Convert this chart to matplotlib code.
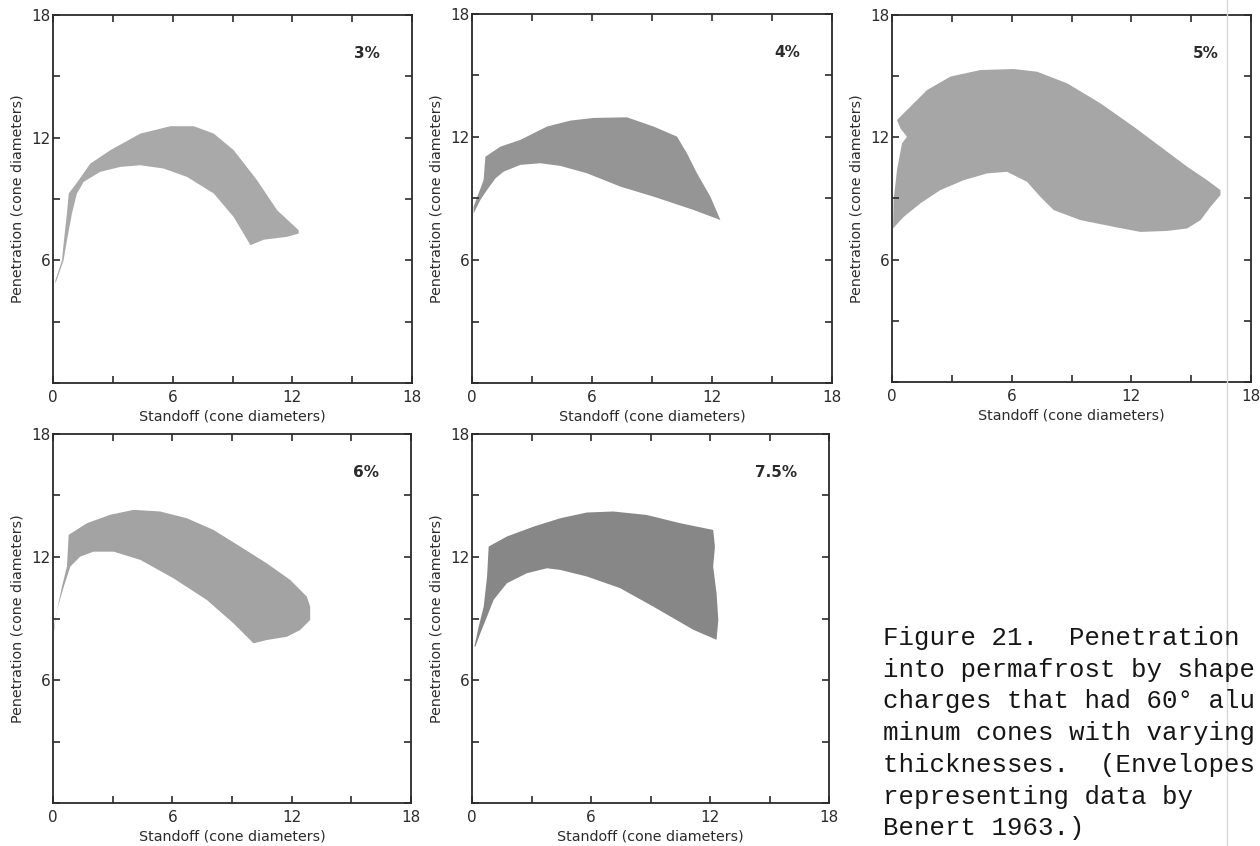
import numpy as np
import matplotlib
matplotlib.use("Agg")
import matplotlib.pyplot as plt

# envelope outlines, (standoff, penetration) in cone diameters
# upper edge goes left -> right, lower edge comes back right -> left

env_3_x = [0.12, 0.45, 0.53, 0.70, 0.79, 1.20, 1.87, 2.88, 4.38, 5.89, 7.06, 8.06, 9.06,
           10.23, 11.24, 12.32, 12.32, 11.74, 10.57, 9.90,
           9.06, 8.06, 6.72, 5.55, 4.38, 3.38, 2.37, 1.54, 1.20, 0.95, 0.70, 0.53, 0.12]
env_3_y = [5.02, 6.00, 6.80, 8.30, 9.27, 9.80, 10.73, 11.39, 12.20, 12.56, 12.56, 12.20, 11.39,
           9.92, 8.45, 7.47, 7.31, 7.15, 7.01, 6.74,
           8.12, 9.27, 10.08, 10.49, 10.65, 10.57, 10.33, 9.84, 9.27, 8.29, 6.98, 6.00, 4.86]

env_4_x = [0.08, 0.33, 0.58, 0.67, 1.42, 2.42, 3.75, 4.92, 6.08, 7.75, 9.08, 10.25, 10.75,
           11.25, 11.92, 12.42,
           11.08, 9.08, 7.42, 5.75, 4.42, 3.42, 2.42, 1.58, 1.17, 0.75, 0.42, 0.08]
env_4_y = [8.60, 9.25, 9.90, 11.04, 11.53, 11.86, 12.51, 12.80, 12.93, 12.96, 12.51, 12.02, 11.20,
           10.23, 9.09, 7.95,
           8.44, 9.09, 9.58, 10.23, 10.59, 10.72, 10.64, 10.31, 9.98, 9.41, 8.93, 8.27]

env_5_x = [0.05, 0.08, 0.25, 0.50, 0.75, 0.42, 0.25, 0.75, 1.76, 2.93, 4.43, 6.10, 7.27, 8.78,
           10.45, 12.12, 13.46, 14.80, 15.80, 16.47,
           16.47, 15.97, 15.47, 14.80, 13.80, 12.46, 11.12, 9.45, 8.11, 7.44, 6.77, 5.77, 4.77,
           3.60, 2.42, 1.42, 0.59, 0.05]
env_5_y = [7.45, 8.92, 10.39, 11.70, 12.03, 12.44, 12.85, 13.34, 14.32, 14.98, 15.30, 15.35, 15.22, 14.65,
           13.67, 12.52, 11.54, 10.56, 9.90, 9.41,
           9.17, 8.59, 7.94, 7.53, 7.41, 7.36, 7.61, 7.94, 8.43, 9.08, 9.82, 10.31, 10.23,
           9.90, 9.41, 8.76, 8.10, 7.53]

env_6_x = [0.03, 0.20, 0.45, 0.70, 0.79, 1.71, 2.88, 4.05, 5.39, 6.73, 8.07, 9.41, 10.75,
           11.93, 12.76, 12.93, 12.93,
           12.43, 11.76, 10.75, 10.08, 9.08, 7.74, 6.06, 4.39, 3.05, 2.04, 1.37, 0.87, 0.54,
           0.20, 0.03]
env_6_y = [8.44, 9.41, 10.55, 11.53, 13.08, 13.65, 14.06, 14.30, 14.22, 13.89, 13.32, 12.51, 11.69,
           10.88, 10.07, 9.58, 8.93,
           8.44, 8.11, 7.95, 7.79, 8.76, 9.90, 10.96, 11.86, 12.26, 12.26, 12.02, 11.53, 10.55,
           9.41, 8.27]

env_75_x = [0.12, 0.34, 0.59, 0.76, 0.84, 1.76, 3.10, 4.45, 5.79, 7.13, 8.81, 10.49, 12.16,
            12.25, 12.16, 12.33, 12.42, 12.33,
            11.16, 9.14, 7.47, 5.79, 4.45, 3.78, 2.77, 1.76, 1.09, 0.76, 0.42, 0.17]
env_75_y = [7.63, 8.61, 9.58, 11.05, 12.51, 13.00, 13.48, 13.89, 14.17, 14.22, 14.05, 13.65, 13.32,
            12.51, 11.53, 10.23, 8.93, 7.96,
            8.45, 9.58, 10.48, 11.05, 11.37, 11.45, 11.21, 10.72, 9.91, 9.10, 8.28, 7.63]

panel_labels = ["3%", "4%", "5%", "6%", "7.5%"]
fill_colors = ["#a9a9a9", "#959595", "#a6a6a6", "#a3a3a3", "#878787"]

# caption as visible on the scan (the page is cut at the right)
caption_lines = [
    "Figure 21.  Penetration",
    "into permafrost by shape",
    "charges that had 60\u00b0 alu",
    "minum cones with varying",
    "thicknesses.  (Envelopes",
    "representing data by",
    "Benert 1963.)",
]

INK = "#2b2b2b"
W, H = 1260, 846

# axes boxes in pixels: left, top, right, bottom
boxes = [
    (53, 15, 412, 383),
    (472, 14, 832, 383),
    (892, 15, 1251, 382),
    (53, 434, 411, 803),
    (472, 434, 829, 803),
]

envelopes = [
    (env_3_x, env_3_y),
    (env_4_x, env_4_y),
    (env_5_x, env_5_y),
    (env_6_x, env_6_y),
    (env_75_x, env_75_y),
]

plt.rcParams.update({
    "font.family": "DejaVu Sans",
    "axes.linewidth": 1.3,
})

fig = plt.figure(figsize=(W / 100, H / 100), dpi=100)
fig.patch.set_facecolor("white")

for (l, t, r, b), (ex, ey), lab, col in zip(boxes, envelopes, panel_labels, fill_colors):
    ax = fig.add_axes([l / W, (H - b) / H, (r - l) / W, (b - t) / H])
    ax.fill(ex, ey, color=col, linewidth=0)
    ax.set_xlim(0, 18)
    ax.set_ylim(0, 18)

    ax.set_xticks(np.arange(0, 19, 3))
    ax.set_xticklabels(["0", "", "6", "", "12", "", "18"])
    ax.set_yticks(np.arange(0, 19, 3))
    ax.set_yticklabels(["", "", "6", "", "12", "", "18"])
    ax.tick_params(direction="in", length=5, width=1.2, top=True, right=True,
                   colors=INK, labelsize=11, pad=5)
    ax.tick_params(axis="y", pad=2)
    for sp in ax.spines.values():
        sp.set_color(INK)

    ax.set_xlabel("Standoff (cone diameters)", fontsize=10.3, color=INK, labelpad=3)
    ax.set_ylabel("Penetration (cone diameters)", fontsize=10.3, color=INK, labelpad=5)
    ax.text(16.4, 16.1, lab, ha="right", va="center", fontsize=11, color=INK,
            fontweight="bold")

# caption, typewriter style
for i, line in enumerate(caption_lines):
    fig.text(883 / W, 1 - (645 + 31.7 * i) / H, line, family="Liberation Mono",
             fontsize=18.5, color="#161616", ha="left", va="baseline")

# page edge from the scan
fig.add_artist(plt.Line2D([1227 / W, 1227 / W], [0, 1], color="#d8d8d8", lw=1.0))

fig.savefig("out.png", dpi=100)
